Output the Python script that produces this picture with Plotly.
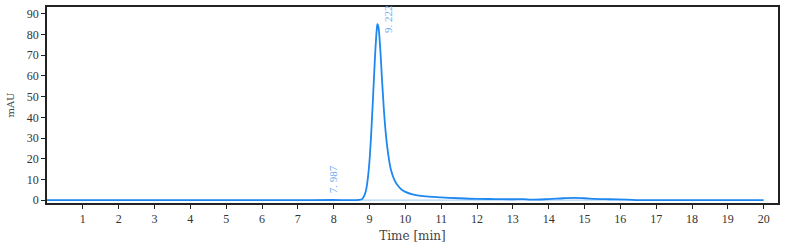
import plotly.graph_objects as go

time_min = [0.0, 2.0, 4.0, 6.0, 7.0, 7.987, 8.5, 8.7, 8.8, 8.85, 8.9, 8.95, 9.0, 9.05, 9.1, 9.15, 9.2, 9.222,
            9.25, 9.3, 9.35, 9.4, 9.45, 9.5, 9.55, 9.6, 9.7, 9.8, 9.9, 10.0, 10.2, 10.5, 11.0, 11.5,
            12.0, 12.5, 13.0, 13.3, 13.5, 14.0, 14.4, 14.7, 15.0, 15.3, 15.7, 16.2, 16.5, 17.0, 18.0, 19.0, 20.0]
signal_mau = [0.0, 0.0, 0.0, 0.0, 0.0, 0.05, 0.0, 0.1, 0.6, 2.0, 4.5, 10.0, 19.0, 33.0, 50.0, 68.0, 82.0, 85.0,
              83.5, 73.0, 58.0, 44.0, 33.0, 25.0, 19.0, 14.5, 9.5, 6.8, 5.0, 4.0, 2.8, 1.9, 1.3, 0.9,
              0.6, 0.5, 0.4, 0.5, 0.2, 0.5, 0.9, 1.1, 0.9, 0.6, 0.4, 0.2, 0.0, 0.0, 0.0, 0.0, 0.0]

baseline_t = [8.6, 16.5]
baseline_y = [0.0, 0.0]

peak_times = [7.987, 9.222]
label_heights = [2.4, 80.0]
peak_labels = ["7. 987", "9. 222"]
label_xanchor = ["center", "left"]

x_ticks = list(range(1, 21))
y_ticks = list(range(0, 100, 10))

font_family = "Liberation Serif, DejaVu Serif, serif"
title_family = "DejaVu Serif, Liberation Serif, serif"

fig = go.Figure()
fig.add_trace(go.Scatter(x=baseline_t, y=baseline_y, mode="lines",
                         line=dict(color="#9cc8f5", width=1), hoverinfo="skip", showlegend=False))
fig.add_trace(go.Scatter(x=time_min, y=signal_mau, mode="lines", line_shape="spline",
                         line=dict(color="#1e88f0", width=1.8), showlegend=False))

for t, h, lab, xa in zip(peak_times, label_heights, peak_labels, label_xanchor):
    fig.add_annotation(x=t, y=h, text=lab, textangle=-90, showarrow=False,
                       xanchor=xa, yanchor="bottom", xshift=2 if xa == "left" else 0,
                       font=dict(family=font_family, size=11, color="#6aaaf0"))

fig.update_layout(
    width=791, height=248,
    margin=dict(l=47, r=13, t=5, b=45),
    paper_bgcolor="white", plot_bgcolor="white",
    font=dict(family=font_family, size=12, color="#333333"),
)
fig.update_xaxes(range=[0, 20.4], tickvals=x_ticks, ticks="outside", ticklen=4, tickcolor="#222",
                 showline=True, linecolor="#222", linewidth=1.5, mirror=True, showgrid=False,
                 zeroline=False, title=dict(text="Time [min]", standoff=6,
                                             font=dict(family=title_family, size=12, color="#444")))
fig.update_yaxes(range=[-1.4, 93.3], tickvals=y_ticks, ticks="outside", ticklen=4, tickcolor="#222",
                 showline=True, linecolor="#222", linewidth=1.5, mirror=True, showgrid=False,
                 zeroline=False, title=dict(text="mAU", standoff=10,
                                             font=dict(family=title_family, size=10, color="#444")))

fig.write_html("out.html")
